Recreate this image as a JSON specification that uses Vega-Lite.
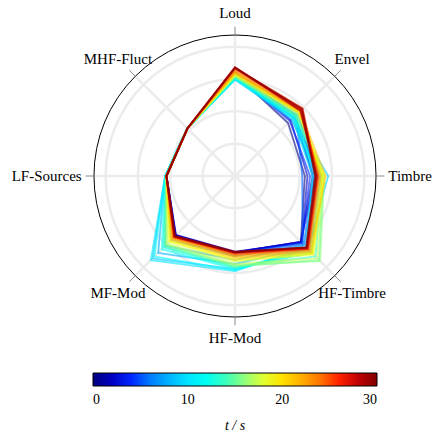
{
  "$schema": "https://vega.github.io/schema/vega-lite/v6.json",
  "width": 282,
  "height": 282,
  "autosize": {"type": "none"},
  "padding": {"left": 94, "top": 35, "right": 57, "bottom": 127},
  "background": "white",
  "config": {
    "view": {"stroke": null},
    "font": "Liberation Serif",
    "legend": {"labelFont": "Liberation Serif", "titleFont": "Liberation Serif"}
  },
  "datasets": {
    "axes": [
      {"k": "Loud"}, {"k": "Envel"}, {"k": "Timbre"}, {"k": "HF-Timbre"},
      {"k": "HF-Mod"}, {"k": "MF-Mod"}, {"k": "LF-Sources"}, {"k": "MHF-Fluct"}
    ],
    "rings": [{"r": 0.25}, {"r": 0.5}, {"r": 0.75}, {"r": 1.0}],
    "series": [
      {"t":0,"k":"Loud","v":0.79},{"t":0,"k":"Envel","v":0.58},{"t":0,"k":"Timbre","v":0.54},{"t":0,"k":"HF-Timbre","v":0.72},{"t":0,"k":"HF-Mod","v":0.59},{"t":0,"k":"MF-Mod","v":0.65},{"t":0,"k":"LF-Sources","v":0.53},{"t":0,"k":"MHF-Fluct","v":0.52},
      {"t":1,"k":"Loud","v":0.79},{"t":1,"k":"Envel","v":0.66},{"t":1,"k":"Timbre","v":0.60},{"t":1,"k":"HF-Timbre","v":0.72},{"t":1,"k":"HF-Mod","v":0.59},{"t":1,"k":"MF-Mod","v":0.65},{"t":1,"k":"LF-Sources","v":0.53},{"t":1,"k":"MHF-Fluct","v":0.52},
      {"t":2,"k":"Loud","v":0.80},{"t":2,"k":"Envel","v":0.61},{"t":2,"k":"Timbre","v":0.56},{"t":2,"k":"HF-Timbre","v":0.73},{"t":2,"k":"HF-Mod","v":0.585},{"t":2,"k":"MF-Mod","v":0.645},{"t":2,"k":"LF-Sources","v":0.53},{"t":2,"k":"MHF-Fluct","v":0.52},
      {"t":3,"k":"Loud","v":0.79},{"t":3,"k":"Envel","v":0.69},{"t":3,"k":"Timbre","v":0.62},{"t":3,"k":"HF-Timbre","v":0.72},{"t":3,"k":"HF-Mod","v":0.59},{"t":3,"k":"MF-Mod","v":0.65},{"t":3,"k":"LF-Sources","v":0.53},{"t":3,"k":"MHF-Fluct","v":0.52},
      {"t":4,"k":"Loud","v":0.78},{"t":4,"k":"Envel","v":0.60},{"t":4,"k":"Timbre","v":0.58},{"t":4,"k":"HF-Timbre","v":0.73},{"t":4,"k":"HF-Mod","v":0.60},{"t":4,"k":"MF-Mod","v":0.66},{"t":4,"k":"LF-Sources","v":0.53},{"t":4,"k":"MHF-Fluct","v":0.52},
      {"t":5,"k":"Loud","v":0.78},{"t":5,"k":"Envel","v":0.67},{"t":5,"k":"Timbre","v":0.52},{"t":5,"k":"HF-Timbre","v":0.74},{"t":5,"k":"HF-Mod","v":0.60},{"t":5,"k":"MF-Mod","v":0.67},{"t":5,"k":"LF-Sources","v":0.53},{"t":5,"k":"MHF-Fluct","v":0.52},
      {"t":6,"k":"Loud","v":0.77},{"t":6,"k":"Envel","v":0.64},{"t":6,"k":"Timbre","v":0.61},{"t":6,"k":"HF-Timbre","v":0.75},{"t":6,"k":"HF-Mod","v":0.62},{"t":6,"k":"MF-Mod","v":0.70},{"t":6,"k":"LF-Sources","v":0.535},{"t":6,"k":"MHF-Fluct","v":0.52},
      {"t":7,"k":"Loud","v":0.76},{"t":7,"k":"Envel","v":0.66},{"t":7,"k":"Timbre","v":0.63},{"t":7,"k":"HF-Timbre","v":0.76},{"t":7,"k":"HF-Mod","v":0.65},{"t":7,"k":"MF-Mod","v":0.76},{"t":7,"k":"LF-Sources","v":0.535},{"t":7,"k":"MHF-Fluct","v":0.52},
      {"t":8,"k":"Loud","v":0.75},{"t":8,"k":"Envel","v":0.62},{"t":8,"k":"Timbre","v":0.64},{"t":8,"k":"HF-Timbre","v":0.78},{"t":8,"k":"HF-Mod","v":0.68},{"t":8,"k":"MF-Mod","v":0.84},{"t":8,"k":"LF-Sources","v":0.54},{"t":8,"k":"MHF-Fluct","v":0.52},
      {"t":9,"k":"Loud","v":0.75},{"t":9,"k":"Envel","v":0.64},{"t":9,"k":"Timbre","v":0.72},{"t":9,"k":"HF-Timbre","v":0.80},{"t":9,"k":"HF-Mod","v":0.72},{"t":9,"k":"MF-Mod","v":0.90},{"t":9,"k":"LF-Sources","v":0.54},{"t":9,"k":"MHF-Fluct","v":0.52},
      {"t":10,"k":"Loud","v":0.745},{"t":10,"k":"Envel","v":0.63},{"t":10,"k":"Timbre","v":0.60},{"t":10,"k":"HF-Timbre","v":0.78},{"t":10,"k":"HF-Mod","v":0.735},{"t":10,"k":"MF-Mod","v":0.92},{"t":10,"k":"LF-Sources","v":0.54},{"t":10,"k":"MHF-Fluct","v":0.525},
      {"t":11,"k":"Loud","v":0.75},{"t":11,"k":"Envel","v":0.65},{"t":11,"k":"Timbre","v":0.62},{"t":11,"k":"HF-Timbre","v":0.79},{"t":11,"k":"HF-Mod","v":0.73},{"t":11,"k":"MF-Mod","v":0.88},{"t":11,"k":"LF-Sources","v":0.54},{"t":11,"k":"MHF-Fluct","v":0.52},
      {"t":12,"k":"Loud","v":0.755},{"t":12,"k":"Envel","v":0.64},{"t":12,"k":"Timbre","v":0.64},{"t":12,"k":"HF-Timbre","v":0.82},{"t":12,"k":"HF-Mod","v":0.72},{"t":12,"k":"MF-Mod","v":0.80},{"t":12,"k":"LF-Sources","v":0.54},{"t":12,"k":"MHF-Fluct","v":0.52},
      {"t":13,"k":"Loud","v":0.76},{"t":13,"k":"Envel","v":0.66},{"t":13,"k":"Timbre","v":0.66},{"t":13,"k":"HF-Timbre","v":0.84},{"t":13,"k":"HF-Mod","v":0.71},{"t":13,"k":"MF-Mod","v":0.78},{"t":13,"k":"LF-Sources","v":0.535},{"t":13,"k":"MHF-Fluct","v":0.52},
      {"t":14,"k":"Loud","v":0.76},{"t":14,"k":"Envel","v":0.67},{"t":14,"k":"Timbre","v":0.67},{"t":14,"k":"HF-Timbre","v":0.88},{"t":14,"k":"HF-Mod","v":0.70},{"t":14,"k":"MF-Mod","v":0.77},{"t":14,"k":"LF-Sources","v":0.535},{"t":14,"k":"MHF-Fluct","v":0.52},
      {"t":15,"k":"Loud","v":0.77},{"t":15,"k":"Envel","v":0.66},{"t":15,"k":"Timbre","v":0.68},{"t":15,"k":"HF-Timbre","v":0.92},{"t":15,"k":"HF-Mod","v":0.70},{"t":15,"k":"MF-Mod","v":0.76},{"t":15,"k":"LF-Sources","v":0.535},{"t":15,"k":"MHF-Fluct","v":0.52},
      {"t":16,"k":"Loud","v":0.77},{"t":16,"k":"Envel","v":0.68},{"t":16,"k":"Timbre","v":0.69},{"t":16,"k":"HF-Timbre","v":0.93},{"t":16,"k":"HF-Mod","v":0.69},{"t":16,"k":"MF-Mod","v":0.75},{"t":16,"k":"LF-Sources","v":0.53},{"t":16,"k":"MHF-Fluct","v":0.52},
      {"t":17,"k":"Loud","v":0.78},{"t":17,"k":"Envel","v":0.69},{"t":17,"k":"Timbre","v":0.68},{"t":17,"k":"HF-Timbre","v":0.90},{"t":17,"k":"HF-Mod","v":0.68},{"t":17,"k":"MF-Mod","v":0.74},{"t":17,"k":"LF-Sources","v":0.53},{"t":17,"k":"MHF-Fluct","v":0.52},
      {"t":18,"k":"Loud","v":0.78},{"t":18,"k":"Envel","v":0.69},{"t":18,"k":"Timbre","v":0.69},{"t":18,"k":"HF-Timbre","v":0.86},{"t":18,"k":"HF-Mod","v":0.66},{"t":18,"k":"MF-Mod","v":0.72},{"t":18,"k":"LF-Sources","v":0.53},{"t":18,"k":"MHF-Fluct","v":0.52},
      {"t":19,"k":"Loud","v":0.79},{"t":19,"k":"Envel","v":0.70},{"t":19,"k":"Timbre","v":0.68},{"t":19,"k":"HF-Timbre","v":0.85},{"t":19,"k":"HF-Mod","v":0.65},{"t":19,"k":"MF-Mod","v":0.71},{"t":19,"k":"LF-Sources","v":0.53},{"t":19,"k":"MHF-Fluct","v":0.52},
      {"t":20,"k":"Loud","v":0.79},{"t":20,"k":"Envel","v":0.70},{"t":20,"k":"Timbre","v":0.67},{"t":20,"k":"HF-Timbre","v":0.84},{"t":20,"k":"HF-Mod","v":0.64},{"t":20,"k":"MF-Mod","v":0.70},{"t":20,"k":"LF-Sources","v":0.53},{"t":20,"k":"MHF-Fluct","v":0.52},
      {"t":21,"k":"Loud","v":0.80},{"t":21,"k":"Envel","v":0.71},{"t":21,"k":"Timbre","v":0.70},{"t":21,"k":"HF-Timbre","v":0.83},{"t":21,"k":"HF-Mod","v":0.63},{"t":21,"k":"MF-Mod","v":0.69},{"t":21,"k":"LF-Sources","v":0.53},{"t":21,"k":"MHF-Fluct","v":0.52},
      {"t":22,"k":"Loud","v":0.80},{"t":22,"k":"Envel","v":0.71},{"t":22,"k":"Timbre","v":0.66},{"t":22,"k":"HF-Timbre","v":0.82},{"t":22,"k":"HF-Mod","v":0.62},{"t":22,"k":"MF-Mod","v":0.68},{"t":22,"k":"LF-Sources","v":0.53},{"t":22,"k":"MHF-Fluct","v":0.52},
      {"t":23,"k":"Loud","v":0.81},{"t":23,"k":"Envel","v":0.71},{"t":23,"k":"Timbre","v":0.65},{"t":23,"k":"HF-Timbre","v":0.81},{"t":23,"k":"HF-Mod","v":0.61},{"t":23,"k":"MF-Mod","v":0.68},{"t":23,"k":"LF-Sources","v":0.53},{"t":23,"k":"MHF-Fluct","v":0.52},
      {"t":24,"k":"Loud","v":0.82},{"t":24,"k":"Envel","v":0.73},{"t":24,"k":"Timbre","v":0.64},{"t":24,"k":"HF-Timbre","v":0.80},{"t":24,"k":"HF-Mod","v":0.61},{"t":24,"k":"MF-Mod","v":0.67},{"t":24,"k":"LF-Sources","v":0.53},{"t":24,"k":"MHF-Fluct","v":0.52},
      {"t":25,"k":"Loud","v":0.83},{"t":25,"k":"Envel","v":0.72},{"t":25,"k":"Timbre","v":0.645},{"t":25,"k":"HF-Timbre","v":0.80},{"t":25,"k":"HF-Mod","v":0.60},{"t":25,"k":"MF-Mod","v":0.67},{"t":25,"k":"LF-Sources","v":0.53},{"t":25,"k":"MHF-Fluct","v":0.52},
      {"t":26,"k":"Loud","v":0.835},{"t":26,"k":"Envel","v":0.74},{"t":26,"k":"Timbre","v":0.63},{"t":26,"k":"HF-Timbre","v":0.79},{"t":26,"k":"HF-Mod","v":0.595},{"t":26,"k":"MF-Mod","v":0.665},{"t":26,"k":"LF-Sources","v":0.53},{"t":26,"k":"MHF-Fluct","v":0.52},
      {"t":27,"k":"Loud","v":0.84},{"t":27,"k":"Envel","v":0.72},{"t":27,"k":"Timbre","v":0.635},{"t":27,"k":"HF-Timbre","v":0.795},{"t":27,"k":"HF-Mod","v":0.59},{"t":27,"k":"MF-Mod","v":0.66},{"t":27,"k":"LF-Sources","v":0.53},{"t":27,"k":"MHF-Fluct","v":0.52},
      {"t":28,"k":"Loud","v":0.835},{"t":28,"k":"Envel","v":0.73},{"t":28,"k":"Timbre","v":0.62},{"t":28,"k":"HF-Timbre","v":0.78},{"t":28,"k":"HF-Mod","v":0.59},{"t":28,"k":"MF-Mod","v":0.66},{"t":28,"k":"LF-Sources","v":0.53},{"t":28,"k":"MHF-Fluct","v":0.52},
      {"t":29,"k":"Loud","v":0.84},{"t":29,"k":"Envel","v":0.715},{"t":29,"k":"Timbre","v":0.63},{"t":29,"k":"HF-Timbre","v":0.785},{"t":29,"k":"HF-Mod","v":0.585},{"t":29,"k":"MF-Mod","v":0.655},{"t":29,"k":"LF-Sources","v":0.53},{"t":29,"k":"MHF-Fluct","v":0.52},
      {"t":30,"k":"Loud","v":0.835},{"t":30,"k":"Envel","v":0.735},{"t":30,"k":"Timbre","v":0.62},{"t":30,"k":"HF-Timbre","v":0.78},{"t":30,"k":"HF-Mod","v":0.59},{"t":30,"k":"MF-Mod","v":0.66},{"t":30,"k":"LF-Sources","v":0.53},{"t":30,"k":"MHF-Fluct","v":0.52}
    ]
  },
  "layer": [
    {
      "data": {"name": "rings"},
      "mark": {"type": "arc", "theta": 0, "theta2": 6.2832, "fillOpacity": 0, "stroke": "#ececec", "strokeWidth": 2.5},
      "encoding": {
        "radius": {"field": "r", "type": "quantitative", "stack": null, "scale": {"type": "linear", "zero": true, "nice": false, "domain": [0, 1.09], "range": [0, 141]}}
      }
    },
    {
      "data": {"name": "axes"},
      "transform": [
        {"calculate": "indexof(['Loud','Envel','Timbre','HF-Timbre','HF-Mod','MF-Mod','LF-Sources','MHF-Fluct'], datum.k) * PI / 4", "as": "a"},
        {"calculate": "1.09 * sin(datum.a)", "as": "ex"},
        {"calculate": "1.09 * cos(datum.a)", "as": "ey"},
        {"calculate": "0", "as": "o"}
      ],
      "mark": {"type": "rule", "color": "#ececec", "strokeWidth": 2.5},
      "encoding": {
        "x": {"field": "o", "type": "quantitative", "scale": {"domain": [-1.09, 1.09], "nice": false, "zero": false}, "axis": null},
        "y": {"field": "o", "type": "quantitative", "scale": {"domain": [-1.09, 1.09], "nice": false, "zero": false}, "axis": null},
        "x2": {"field": "ex"},
        "y2": {"field": "ey"}
      }
    },
    {
      "data": {"values": [{"r": 1.09}]},
      "mark": {"type": "arc", "theta": 0, "theta2": 6.2832, "fillOpacity": 0, "stroke": "black", "strokeWidth": 1},
      "encoding": {
        "radius": {"field": "r", "type": "quantitative", "stack": null, "scale": {"type": "linear", "zero": true, "nice": false, "domain": [0, 1.09], "range": [0, 141]}}
      }
    },
    {
      "data": {"name": "axes"},
      "transform": [
        {"calculate": "indexof(['Loud','Envel','Timbre','HF-Timbre','HF-Mod','MF-Mod','LF-Sources','MHF-Fluct'], datum.k) * PI / 4", "as": "a"},
        {"calculate": "1.09 * sin(datum.a)", "as": "sx"},
        {"calculate": "1.09 * cos(datum.a)", "as": "sy"},
        {"calculate": "1.155 * sin(datum.a)", "as": "ex"},
        {"calculate": "1.155 * cos(datum.a)", "as": "ey"}
      ],
      "mark": {"type": "rule", "color": "#8a8a8a", "strokeWidth": 1},
      "encoding": {
        "x": {"field": "sx", "type": "quantitative", "scale": {"domain": [-1.09, 1.09], "nice": false, "zero": false}, "axis": null},
        "y": {"field": "sy", "type": "quantitative", "scale": {"domain": [-1.09, 1.09], "nice": false, "zero": false}, "axis": null},
        "x2": {"field": "ex"},
        "y2": {"field": "ey"}
      }
    },
    {
      "data": {"name": "series"},
      "transform": [
        {"calculate": "indexof(['Loud','Envel','Timbre','HF-Timbre','HF-Mod','MF-Mod','LF-Sources','MHF-Fluct'], datum.k)", "as": "i"},
        {"calculate": "datum.v * sin(datum.i * PI / 4)", "as": "px"},
        {"calculate": "datum.v * cos(datum.i * PI / 4)", "as": "py"}
      ],
      "mark": {"type": "line", "interpolate": "linear-closed", "strokeWidth": 1.9, "strokeOpacity": 0.6},
      "encoding": {
        "x": {"field": "px", "type": "quantitative", "scale": {"domain": [-1.09, 1.09], "nice": false, "zero": false}, "axis": null},
        "y": {"field": "py", "type": "quantitative", "scale": {"domain": [-1.09, 1.09], "nice": false, "zero": false}, "axis": null},
        "order": {"field": "i", "type": "quantitative"},
        "detail": {"field": "t", "type": "quantitative"},
        "color": {
          "field": "t",
          "type": "quantitative",
          "scale": {
            "domain": [0, 3.75, 11.25, 18.75, 26.25, 30],
            "range": ["#000080", "#0000ff", "#00ffff", "#ffff00", "#ff0000", "#800000"]
          },
          "legend": {
            "orient": "none",
            "direction": "horizontal",
            "legendX": -1,
            "legendY": 338,
            "gradientLength": 284,
            "gradientThickness": 13,
            "gradientStrokeColor": "black",
            "gradientStrokeWidth": 1,
            "gradientOpacity": 1,
            "values": [0, 10, 20, 30],
            "labelAlign": "center",
            "labelFontSize": 14,
            "labelColor": "black",
            "labelOffset": 7,
            "title": "t / s",
            "titleOrient": "bottom",
            "titleAnchor": "middle",
            "titleFontSize": 14,
            "titleFontWeight": "normal",
            "titleFontStyle": "italic",
            "titleColor": "black",
            "titlePadding": 12,
            "padding": 0
          }
        }
      }
    },
    {
      "data": {"name": "axes"},
      "transform": [
        {"calculate": "indexof(['Loud','Envel','Timbre','HF-Timbre','HF-Mod','MF-Mod','LF-Sources','MHF-Fluct'], datum.k) * PI / 4", "as": "a"},
        {"calculate": "abs(sin(datum.a)) > 0.9 ? 1.185 : abs(cos(datum.a)) > 0.9 ? 1.2 : 1.28", "as": "lr"},
        {"calculate": "datum.lr * sin(datum.a)", "as": "lx"},
        {"calculate": "datum.lr * cos(datum.a)", "as": "ly"}
      ],
      "mark": {
        "type": "text",
        "fontSize": 15,
        "color": "black",
        "align": {"expr": "sin(datum.a) > 0.9 ? 'left' : sin(datum.a) < -0.9 ? 'right' : 'center'"},
        "baseline": {"expr": "cos(datum.a) > 0.9 ? 'bottom' : cos(datum.a) < -0.9 ? 'top' : 'middle'"}
      },
      "encoding": {
        "x": {"field": "lx", "type": "quantitative", "scale": {"domain": [-1.09, 1.09], "nice": false, "zero": false}, "axis": null},
        "y": {"field": "ly", "type": "quantitative", "scale": {"domain": [-1.09, 1.09], "nice": false, "zero": false}, "axis": null},
        "text": {"field": "k"}
      }
    }
  ]
}
